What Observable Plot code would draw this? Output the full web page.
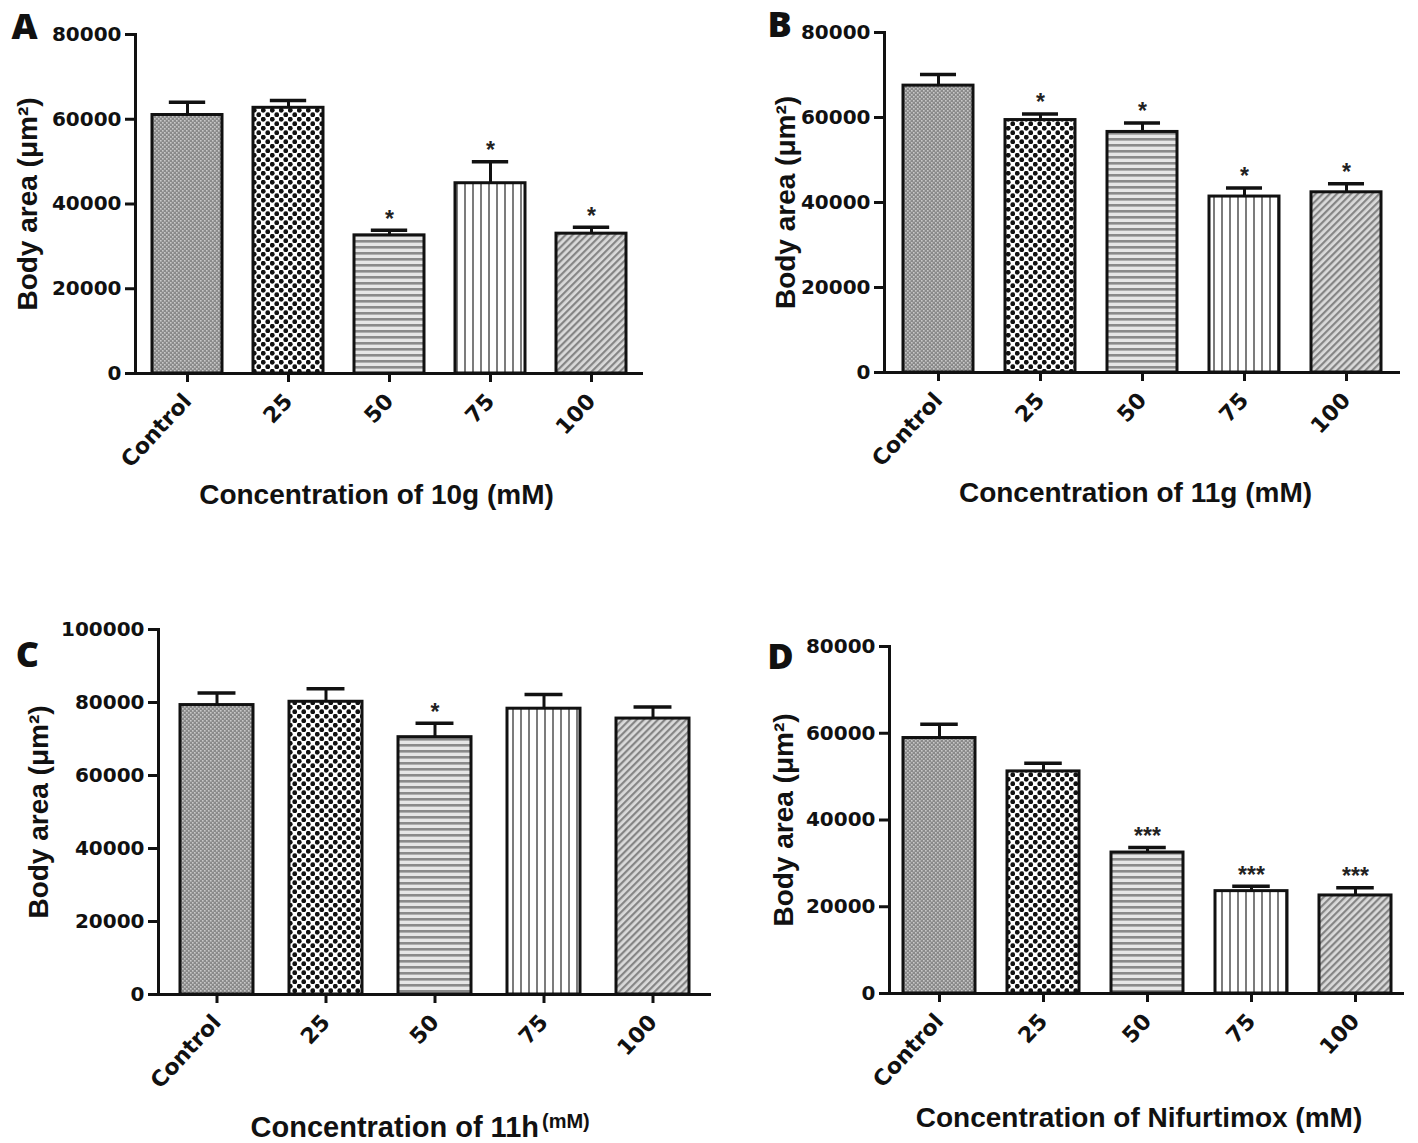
<!DOCTYPE html>
<html>
<head>
<meta charset="utf-8">
<script src="https://cdn.jsdelivr.net/npm/d3@7"></script>
<script src="https://cdn.jsdelivr.net/npm/@observablehq/plot@0.6"></script>
<style>
  html, body { margin: 0; padding: 0; background: #fff; }
  #page { position: relative; width: 1418px; height: 1143px; background: #fff; overflow: hidden; }
  #page > div { position: absolute; }
</style>
</head>
<body>
<svg width="0" height="0" style="position:absolute">
  <defs>
    <pattern id="pat-control" patternUnits="userSpaceOnUse" width="4" height="4">
      <rect width="4" height="4" fill="#8a8a8a"></rect>
      <rect x="0" y="0" width="1.6" height="1.6" fill="#c8c8c8"></rect>
      <rect x="2" y="2" width="1.6" height="1.6" fill="#c8c8c8"></rect>
    </pattern>
    <pattern id="pat-25" patternUnits="userSpaceOnUse" width="9" height="9">
      <rect width="9" height="9" fill="#ffffff"></rect>
      <circle cx="2.25" cy="2.25" r="2.4" fill="#111"></circle>
      <circle cx="6.75" cy="6.75" r="2.4" fill="#111"></circle>
    </pattern>
    <pattern id="pat-50" patternUnits="userSpaceOnUse" width="6" height="6">
      <rect width="6" height="6" fill="#e6e6e6"></rect>
      <rect x="0" y="0" width="6" height="2.6" fill="#8a8a8a"></rect>
    </pattern>
    <pattern id="pat-75" patternUnits="userSpaceOnUse" width="8" height="8">
      <rect width="8" height="8" fill="#ffffff"></rect>
      <rect x="0" y="0" width="2" height="8" fill="#7c7c7c"></rect>
    </pattern>
    <pattern id="pat-100" patternUnits="userSpaceOnUse" width="5" height="5" patternTransform="rotate(45)">
      <rect width="5" height="5" fill="#dadada"></rect>
      <rect x="0" y="0" width="2.2" height="5" fill="#858585"></rect>
    </pattern>
  </defs>
</svg>
<div id="page"></div>
<script>
// ---------------- data ----------------
const categories = ["Control", "25", "50", "75", "100"];
const patterns = ["url(#pat-control)", "url(#pat-25)", "url(#pat-50)", "url(#pat-75)", "url(#pat-100)"];

const meanA = [61000, 62700, 32600, 44900, 33000];
const semA  = [3000, 1700, 1200, 5100, 1500];
const starsA = ["", "", "*", "*", "*"];

const meanB = [67500, 59400, 56600, 41400, 42400];
const semB  = [2600, 1400, 2100, 2000, 2000];
const starsB = ["", "*", "*", "*", "*"];

const meanC = [79300, 80200, 70500, 78300, 75600];
const semC  = [3300, 3600, 3800, 3900, 3200];
const starsC = ["", "", "*", "", ""];

const meanD = [58900, 51200, 32500, 23600, 22600];
const semD  = [3150, 1900, 1150, 1150, 1770];
const starsD = ["", "", "***", "***", "***"];

const yTicks80 = [0, 20000, 40000, 60000, 80000];
const yTicks100 = [0, 20000, 40000, 60000, 80000, 100000];

const yLabel = "Body area (\u03bcm\u00b2)";

// ---------------- layout ----------------
const panels = [
  {letter: "A", mean: meanA, sem: semA, stars: starsA, ticks: yTicks80,
   xlabel: "Concentration of 10g (mM)",
   svg: {left: 0, top: 0, w: 709, h: 560},
   frame: {l: 135, r: 643, t: 34, b: 373},
   po: 0.155, pi: 0.31, letterPos: [24, 27], yLabX: 28, xLabY: 495, xLabDx: -13},
  {letter: "B", mean: meanB, sem: semB, stars: starsB, ticks: yTicks80,
   xlabel: "Concentration of 11g (mM)",
   svg: {left: 709, top: 0, w: 709, h: 560},
   frame: {l: 884, r: 1400, t: 32, b: 372},
   po: 0.17, pi: 0.31, letterPos: [779, 25], yLabX: 786, xLabY: 493, xLabDx: -7},
  {letter: "C", mean: meanC, sem: semC, stars: starsC, ticks: yTicks100,
   xlabel: null,
   svg: {left: 0, top: 570, w: 709, h: 573},
   frame: {l: 158, r: 711, t: 629, b: 994},
   po: 0.2, pi: 0.33, letterPos: [27, 655], yLabX: 39, xLabY: 1127, xLabDx: -10},
  {letter: "D", mean: meanD, sem: semD, stars: starsD, ticks: yTicks80,
   xlabel: "Concentration of Nifurtimox (mM)",
   svg: {left: 709, top: 570, w: 709, h: 573},
   frame: {l: 889, r: 1404, t: 646, b: 993},
   po: 0.13, pi: 0.31, letterPos: [780, 657], yLabX: 784, xLabY: 1118, xLabDx: -8}
];

const page = document.getElementById("page");
const boldSans = "'Liberation Sans', Arial, sans-serif";
const wideSans = "'DejaVu Sans', sans-serif";

for (const p of panels) {
  const data = categories.map((c, i) => ({
    cat: c, mean: p.mean[i], sem: p.sem[i], star: p.stars[i], pat: patterns[i]
  }));
  const fl = p.frame.l - p.svg.left, fr = p.svg.left + p.svg.w - p.frame.r;
  const ft = p.frame.t - p.svg.top, fb = p.svg.top + p.svg.h - p.frame.b;
  const ymax = p.ticks[p.ticks.length - 1];
  const frameW = p.frame.r - p.frame.l;
  const step = frameW / (categories.length - p.pi + 2 * p.po);
  const bw = step * (1 - p.pi);
  const capInset = bw * 0.24;

  const xlabelMarks = p.xlabel
    ? [Plot.text([p.xlabel], {text: d => d, frameAnchor: "bottom", dx: p.xLabDx, dy: p.xLabY - p.frame.b,
        textAnchor: "middle", lineAnchor: "middle", fontSize: 28, fontWeight: "bold", fontFamily: boldSans, fill: "#111"})]
    : [Plot.text(["Concentration of 11h"], {text: d => d, frameAnchor: "bottom", dx: 104, dy: p.xLabY - p.frame.b,
        textAnchor: "end", lineAnchor: "middle", fontSize: 29, fontWeight: "bold", fontFamily: boldSans, fill: "#111"}),
       Plot.text(["(mM)"], {text: d => d, frameAnchor: "bottom", dx: 107, dy: p.xLabY - p.frame.b - 6,
        textAnchor: "start", lineAnchor: "middle", fontSize: 20, fontWeight: "bold", fontFamily: boldSans, fill: "#111"})];

  const chart = Plot.plot({
    width: p.svg.w,
    height: p.svg.h,
    marginLeft: fl, marginRight: fr, marginTop: ft, marginBottom: fb,
    style: {background: "transparent", color: "#111", overflow: "visible"},
    x: {type: "band", domain: categories, paddingInner: p.pi, paddingOuter: p.po, axis: null},
    y: {domain: [0, ymax], axis: null},
    color: {type: "identity"},
    marks: [
      Plot.barY(data, {x: "cat", y: "mean", fill: "pat", stroke: "#111", strokeWidth: 3}),
      Plot.ruleX(data, {x: "cat", y1: "mean", y2: d => d.mean + d.sem, stroke: "#111", strokeWidth: 3}),
      Plot.tickY(data, {x: "cat", y: d => d.mean + d.sem, stroke: "#111", strokeWidth: 3.5,
        insetLeft: capInset, insetRight: capInset}),
      Plot.text(data.filter(d => d.star), {x: "cat", y: d => d.mean + d.sem, text: "star", dy: -11,
        fontSize: 23, fontWeight: "bold", fontFamily: boldSans, fill: "#222"}),
      Plot.frame({anchor: "left", stroke: "#111", strokeWidth: 3}),
      Plot.ruleY([0], {stroke: "#111", strokeWidth: 3}),
      Plot.axisY({ticks: p.ticks, tickFormat: "d", tickSize: 10, tickPadding: 4, strokeWidth: 3,
        fontSize: 20, fontWeight: "bold", fontFamily: wideSans, label: null, fill: "#111", stroke: "#111"}),
      Plot.axisX({tickSize: 9, tickPadding: 15, tickRotate: -47, strokeWidth: 3,
        fontSize: 22, fontWeight: "bold", fontFamily: wideSans, label: null, fill: "#111", stroke: "#111"}),
      Plot.text([yLabel], {text: d => d, frameAnchor: "left", dx: p.yLabX - p.frame.l, rotate: -90,
        textAnchor: "middle", lineAnchor: "middle", fontSize: 28, fontWeight: "bold", fontFamily: boldSans, fill: "#111"}),
      ...xlabelMarks,
      Plot.text([p.letter], {text: d => d, frameAnchor: "top-left",
        dx: p.letterPos[0] - p.frame.l, dy: p.letterPos[1] - p.frame.t,
        textAnchor: "middle", lineAnchor: "middle", fontSize: 36, fontWeight: 800, fontFamily: "'Open Sans', 'Liberation Sans', sans-serif", fill: "#111"})
    ]
  });
  const wrap = document.createElement("div");
  wrap.style.left = p.svg.left + "px";
  wrap.style.top = p.svg.top + "px";
  wrap.appendChild(chart);
  page.appendChild(wrap);
}
</script>
</body>
</html>
